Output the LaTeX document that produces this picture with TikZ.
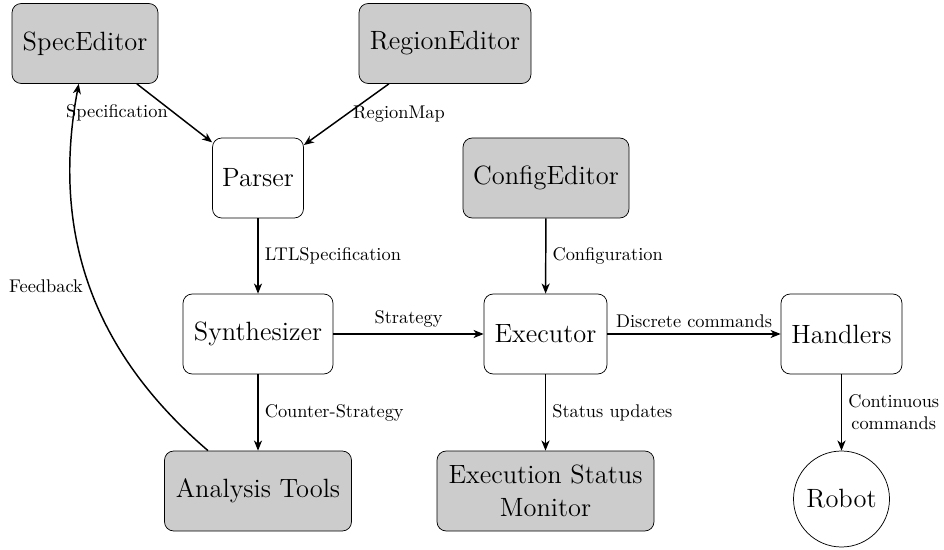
\documentclass[tikz,border=0pt]{standalone}
\usetikzlibrary{arrows.meta,shapes.geometric}
\begin{document}
\begin{tikzpicture}[x=0.5447pt,y=-0.5447pt,
  box/.style={draw=black, rounded corners=5pt, font=\Large, align=center,
    inner sep=5pt, minimum height=80*0.5447pt},
  graybox/.style={box, fill=gray!40},
  whitebox/.style={box, fill=white},
  robotshape/.style={circle, draw=black, font=\Large, minimum size=96*0.5447pt, inner sep=2pt},
  arr/.style={-{Stealth[length=5.5pt,width=4.4pt,inset=1.6pt]}, thick},
  lbl/.style={font=\normalsize, inner sep=3.3pt}
]
\useasboundingbox (0,0) rectangle (944,550);

\node[graybox, minimum width=146*0.5447pt] (spec) at (85,43.5) {SpecEditor};
\node[graybox, minimum width=172*0.5447pt] (region) at (445,43.5) {RegionEditor};
\node[whitebox, minimum width=91*0.5447pt] (parser) at (258,178) {Parser};
\node[graybox, minimum width=166*0.5447pt] (config) at (546,178) {ConfigEditor};
\node[whitebox, minimum width=150*0.5447pt] (synth) at (258,334) {Synthesizer};
\node[whitebox, minimum width=123*0.5447pt] (exec) at (545.5,334) {Executor};
\node[whitebox, minimum width=121*0.5447pt] (handlers) at (841.5,334) {Handlers};
\node[graybox, minimum width=187*0.5447pt] (analysis) at (258,491) {Analysis Tools};
\node[graybox, minimum width=217*0.5447pt] (monitor) at (545.5,491) {Execution Status\\Monitor};
\node[robotshape] (robot) at (841.5,499) {Robot};

\draw[arr] (spec) -- node[midway, left, lbl] {Specification} (parser);
\draw[arr] (region) -- node[midway, right, lbl] {RegionMap} (parser);
\draw[arr] (parser) -- node[midway, right, lbl] {LTLSpecification} (synth);
\draw[arr] (synth) -- node[midway, above, lbl] {Strategy} (exec);
\draw[arr] (synth) -- node[midway, right, lbl] {Counter-Strategy} (analysis);
\draw[arr] (config) -- node[midway, right, lbl] {Configuration} (exec);
\draw[arr] (exec) -- node[midway, above, lbl] {Discrete commands} (handlers);
\draw[arr] (exec) -- node[midway, right, lbl] {Status updates} (monitor);
\draw[arr] (handlers) -- node[midway, right, lbl, align=center] {Continuous\\commands} (robot);
\draw[arr] (analysis) to[bend left] node[midway, left, lbl] {Feedback} (spec);
\end{tikzpicture}
\end{document}
